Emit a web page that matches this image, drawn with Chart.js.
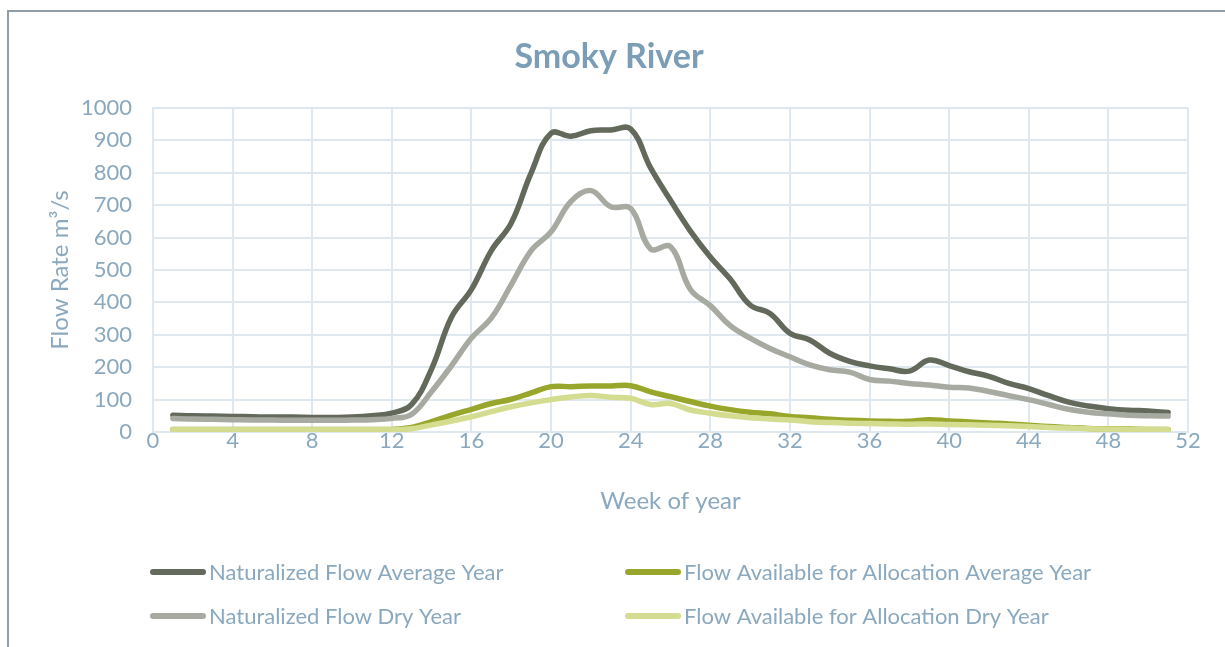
<!DOCTYPE html>
<html>
<head>
<meta charset="utf-8">
<title>Smoky River</title>
<script src="https://cdn.jsdelivr.net/npm/chart.js@4.4.1/dist/chart.umd.min.js"></script>
<style>
  html, body { margin: 0; padding: 0; background: #ffffff; overflow: hidden; }
  #wrap { position: relative; width: 1225px; height: 647px; }
  canvas { display: block; }
</style>
</head>
<body>
<div id="wrap"><canvas id="flowChart" width="1225" height="647"></canvas></div>
<script>
// Week of year for each weekly value
const weeks = [1, 2, 3, 4, 5, 6, 7, 8, 9, 10, 11, 12, 13, 14, 15, 16, 17, 18, 19, 20,
  21, 22, 23, 24, 25, 26, 27, 28, 29, 30, 31, 32, 33, 34, 35, 36, 37, 38, 39, 40,
  41, 42, 43, 44, 45, 46, 47, 48, 49, 50, 51];

// Flow rates, m³/s
const naturalizedAverage = [52, 50, 49, 48, 47, 46, 46, 45, 45, 46, 50, 58, 85, 195, 355, 440, 560, 645, 800, 922,
  913, 930, 932, 935, 815, 715, 620, 540, 472, 392, 366, 305, 284, 243, 218, 204, 195, 188, 222, 205,
  186, 172, 150, 134, 112, 92, 80, 72, 67, 65, 60];
const naturalizedDry = [42, 40, 39, 38, 37, 37, 36, 36, 36, 37, 38, 42, 55, 125, 205, 290, 352, 455, 560, 618,
  712, 745, 695, 690, 565, 572, 440, 390, 328, 290, 258, 232, 207, 192, 185, 162, 157, 150, 145, 138,
  136, 125, 112, 100, 85, 70, 61, 56, 52, 50, 49];
const allocationAverage = [8, 8, 8, 8, 8, 8, 8, 8, 8, 8, 8, 8, 14, 32, 52, 70, 88, 101, 121, 140,
  140, 142, 142, 143, 124, 109, 94, 80, 69, 61, 56, 48, 44, 39, 36, 34, 33, 33, 38, 34,
  31, 28, 25, 21, 17, 14, 11, 10, 9, 8, 8];
const allocationDry = [7, 7, 7, 7, 7, 7, 7, 7, 7, 7, 7, 7, 10, 22, 34, 47, 63, 78, 90, 100,
  108, 113, 107, 104, 85, 88, 68, 58, 50, 44, 40, 37, 32, 29, 27, 26, 25, 24, 25, 23,
  22, 21, 19, 17, 14, 12, 10, 9, 8, 8, 7];

const seriesNames = [
  'Naturalized Flow Average Year',
  'Naturalized Flow Dry Year',
  'Flow Available for Allocation Average Year',
  'Flow Available for Allocation Dry Year'
];
const seriesValues = [naturalizedAverage, naturalizedDry, allocationAverage, allocationDry];
const seriesColors = ['#636a5c', '#a7aaa0', '#98a62c', '#d3dc8f'];
const seriesOrder = [4, 3, 2, 1];

const xTickStep = 4;
const yTickStep = 100;

const textColor = '#8aa8be';
const gridColor = '#e0e8ef';
const fontFamily = 'Lato, "Open Sans", sans-serif';

// Outer chart frame
const framePlugin = {
  id: 'frame',
  beforeDraw(chart) {
    const ctx = chart.ctx;
    ctx.save();
    ctx.strokeStyle = '#909ca6';
    ctx.lineWidth = 2;
    ctx.strokeRect(8, 11, chart.width + 20, chart.height + 20);
    ctx.restore();
  }
};

// Two-column legend beneath the axis title
const gridLegendPlugin = {
  id: 'gridLegend',
  afterDraw(chart, args, opts) {
    const ctx = chart.ctx;
    ctx.save();
    ctx.font = opts.font;
    ctx.textBaseline = 'middle';
    ctx.textAlign = 'left';
    chart.data.datasets.forEach((ds, i) => {
      const slot = opts.slots[i];
      const x = opts.columns[slot[0]];
      const y = opts.rows[slot[1]];
      ctx.strokeStyle = ds.borderColor;
      ctx.lineWidth = 6;
      ctx.lineCap = 'round';
      ctx.beginPath();
      ctx.moveTo(x + 3, y);
      ctx.lineTo(x + opts.sampleLength - 3, y);
      ctx.stroke();
      ctx.fillStyle = opts.color;
      ctx.fillText(ds.label, x + opts.sampleLength + 3, y + 1);
    });
    ctx.restore();
  }
};

const datasets = seriesNames.map((name, s) => ({
  label: name,
  data: weeks.map((w, i) => ({ x: w, y: seriesValues[s][i] })),
  borderColor: seriesColors[s],
  backgroundColor: seriesColors[s],
  borderWidth: 5.5,
  borderCapStyle: 'round',
  borderJoinStyle: 'round',
  pointRadius: 0,
  pointHoverRadius: 0,
  tension: 0.4,
  fill: false,
  order: seriesOrder[s]
}));

new Chart(document.getElementById('flowChart'), {
  type: 'line',
  data: { datasets },
  plugins: [framePlugin, gridLegendPlugin],
  options: {
    responsive: false,
    animation: false,
    devicePixelRatio: 1,
    layout: { padding: { top: 0, left: 30, right: 37, bottom: 125 } },
    plugins: {
      legend: { display: false },
      tooltip: { enabled: false },
      title: {
        display: true,
        text: 'Smoky River',
        color: '#7b9db6',
        font: { family: fontFamily, size: 34, weight: 'bold' },
        padding: { top: 37, bottom: 30.2 }
      },
      gridLegend: {
        font: '22px ' + fontFamily,
        color: textColor,
        columns: [150, 625],
        rows: [572, 616],
        sampleLength: 56,
        slots: [[0, 0], [0, 1], [1, 0], [1, 1]]
      }
    },
    scales: {
      x: {
        type: 'linear',
        min: 0,
        max: 52,
        afterFit(scale) { scale.height = 90; },
        ticks: {
          stepSize: xTickStep,
          color: textColor,
          font: { family: fontFamily, size: 22 },
          padding: -4,
          maxRotation: 0
        },
        grid: { color: gridColor, lineWidth: 2, drawTicks: false },
        border: { color: gridColor, width: 2 },
        title: {
          display: true,
          text: 'Week of year',
          color: textColor,
          font: { family: fontFamily, size: 24 },
          padding: { top: 0, bottom: 6 }
        }
      },
      y: {
        min: 0,
        max: 1000,
        afterFit(scale) { scale.width = 123; },
        ticks: {
          stepSize: yTickStep,
          color: textColor,
          font: { family: fontFamily, size: 22 },
          padding: 21,
          callback: (value) => String(value)
        },
        grid: { color: gridColor, lineWidth: 2, drawTicks: false },
        border: { color: gridColor, width: 2 },
        title: {
          display: true,
          text: 'Flow Rate m³/s',
          color: textColor,
          font: { family: fontFamily, size: 24 },
          padding: { top: 16, bottom: 0 }
        }
      }
    }
  }
});
</script>
</body>
</html>
